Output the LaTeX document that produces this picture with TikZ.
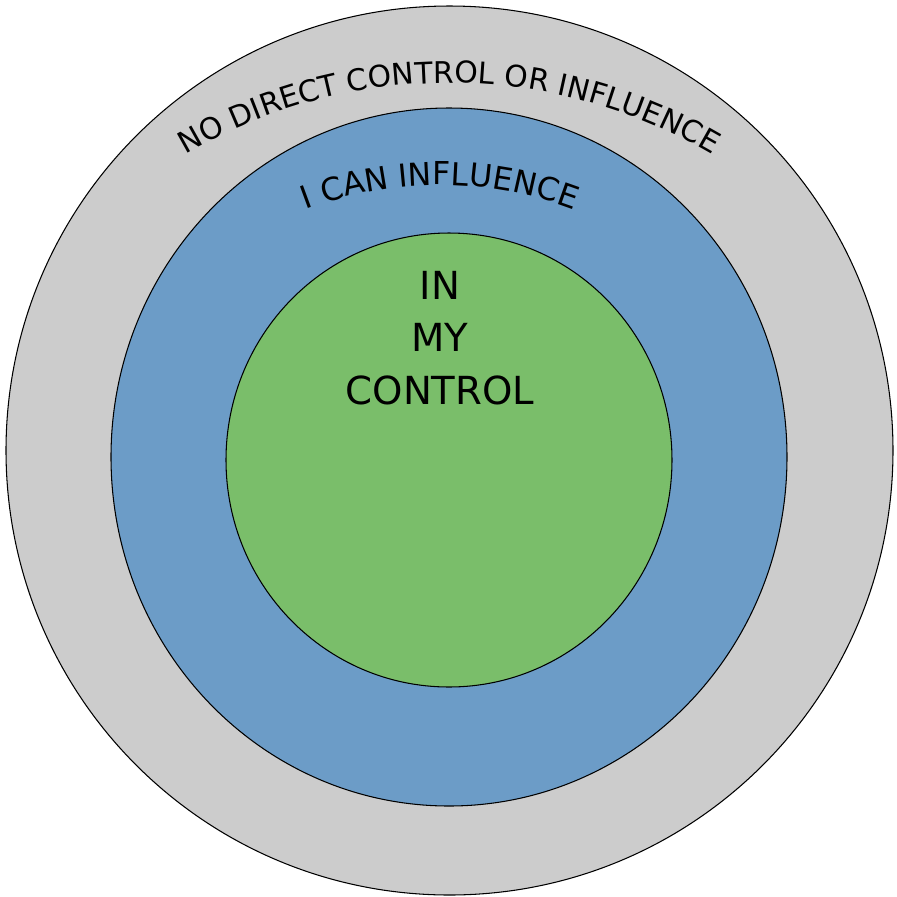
\documentclass[tikz,border=0pt]{standalone}
\usepackage{fontspec}
\setmainfont{DejaVu Sans}
\usepackage{xcolor}
\usetikzlibrary{decorations.text}

\definecolor{ringgray}{RGB}{204,204,204}
\definecolor{ringblue}{RGB}{108,156,199}
\definecolor{ringgreen}{RGB}{122,190,106}

\begin{document}
\begin{tikzpicture}[
    x=0.02cm, y=0.02cm,
    ring/.style={draw=black, line width=0.6pt},
    label/.style={font=\fontsize{22}{30}\selectfont, align=center, text=black}
]
\useasboundingbox (0,0) rectangle (897,-897);

% Rings
\draw[ring, fill=ringgray] (449.5,-450.5) ellipse [x radius=443.5, y radius=444.5];
\draw[ring, fill=ringblue] (449,-457) ellipse [x radius=338, y radius=349];
\draw[ring, fill=ringgreen] (449,-460) ellipse [x radius=223, y radius=227];

% Curved labels
\path[decorate, decoration={text along path, text align=center,
    text={|\fontsize{17}{20}\selectfont|NO DIRECT CONTROL OR INFLUENCE}}]
    (449,-603) ++(128:520) arc[start angle=128, end angle=52, radius=520];
\path[decorate, decoration={text along path, text align=center,
    text={|\fontsize{18}{20}\selectfont|I CAN INFLUENCE}}]
    (440,-561) ++(115:376) arc[start angle=115, end angle=65, radius=376];

% Centre label
\node[label] (ctrl) at (440,-338) {IN\\MY\\CONTROL};

\end{tikzpicture}
\end{document}
